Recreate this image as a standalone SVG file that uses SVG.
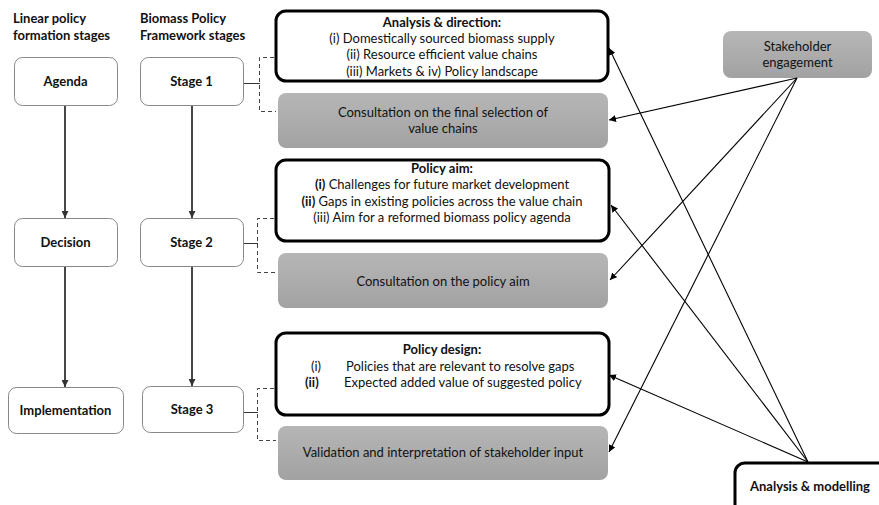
<svg xmlns="http://www.w3.org/2000/svg" width="879" height="505" viewBox="0 0 879 505">
<defs>
<linearGradient id="g" x1="0" y1="0" x2="0" y2="1">
<stop offset="0" stop-color="#b6b6b6"/>
<stop offset="1" stop-color="#a2a2a2"/>
</linearGradient>
<marker id="ah" viewBox="0 0 10 10" refX="10" refY="5" markerWidth="7" markerHeight="7" markerUnits="userSpaceOnUse" orient="auto">
<path d="M0,0 L10,5 L0,10 z" fill="#000"/>
</marker>
<marker id="ahg" viewBox="0 0 10 10" refX="10" refY="5" markerWidth="7" markerHeight="7" markerUnits="userSpaceOnUse" orient="auto">
<path d="M0,0 L10,5 L0,10 z" fill="#333"/>
</marker>
</defs>
<style>
text{font-family:Lato,"Liberation Sans",sans-serif;font-size:13px;fill:#111}
.b{font-weight:bold}
.c{text-anchor:middle}
.stage{fill:#fff;stroke:#888;stroke-width:1}
.thick{fill:#fff;stroke:#000;stroke-width:3}
.grey{fill:url(#g);stroke:none}
.v{stroke:#333;stroke-width:1.8;fill:none;marker-end:url(#ahg)}
.l{stroke:#000;stroke-width:1.1;fill:none;marker-end:url(#ah)}
.br{stroke:#444;stroke-width:1;fill:none;stroke-dasharray:4,3}
.tick{stroke:#333;stroke-width:1;fill:none}
</style>
<rect width="879" height="505" fill="#fff"/>
<g id="headers">
<text class="b" x="13" y="23">Linear policy</text>
<text class="b" x="13" y="40">formation stages</text>
<text class="b" x="140" y="23">Biomass Policy</text>
<text class="b" x="140" y="40">Framework stages</text>
</g>
<g id="agenda"><rect class="stage" x="14.5" y="57.5" width="103" height="48" rx="8"/><text class="b c" x="65.5" y="86">Agenda</text></g>
<g id="decision"><rect class="stage" x="14.5" y="218.5" width="103" height="48" rx="8"/><text class="b c" x="65.5" y="247">Decision</text></g>
<g id="implementation"><rect class="stage" x="8.5" y="387.5" width="115" height="46" rx="8"/><text class="b c" x="65.5" y="415">Implementation</text></g>
<g id="stage1"><rect class="stage" x="140.5" y="57.5" width="103" height="48" rx="8"/><text class="b c" x="191.5" y="86">Stage 1</text></g>
<g id="stage2"><rect class="stage" x="140.5" y="218.5" width="103" height="48" rx="8"/><text class="b c" x="191.5" y="247">Stage 2</text></g>
<g id="stage3"><rect class="stage" x="142.5" y="386.5" width="101" height="46" rx="8"/><text class="b c" x="192" y="414">Stage 3</text></g>
<g id="analysis-direction"><rect class="thick" x="276" y="11" width="332" height="70" rx="10"/>
<text class="c" x="442"><tspan class="b" x="442" y="27">Analysis &amp; direction:</tspan><tspan x="442" y="43">(i) Domestically sourced biomass supply</tspan><tspan x="442" y="59">(ii) Resource efficient value chains</tspan><tspan x="442" y="76">(iii) Markets &amp; iv) Policy landscape</tspan></text></g>
<g id="consultation-1"><rect class="grey" x="278" y="93" width="330" height="55" rx="8"/>
<text class="c" x="443" y="117">Consultation on the final selection of</text><text class="c" x="443" y="133">value chains</text></g>
<g id="policy-aim"><rect class="thick" x="276" y="160" width="333" height="81" rx="10"/>
<text class="c b" x="442" y="173">Policy aim:</text>
<text class="c" x="442" y="189"><tspan class="b">(i)</tspan> Challenges for future market development</text>
<text class="c" x="442" y="206"><tspan class="b">(ii)</tspan> Gaps in existing policies across the value chain</text>
<text class="c" x="442" y="222">(iii) Aim for a reformed biomass policy agenda</text></g>
<g id="consultation-2"><rect class="grey" x="278" y="253" width="330" height="55" rx="8"/>
<text class="c" x="443" y="286">Consultation on the policy aim</text></g>
<g id="policy-design"><rect class="thick" x="276" y="333" width="333" height="82" rx="10"/>
<text class="c b" x="442" y="354">Policy design:</text>
<text x="311" y="371">(i)</text><text x="346" y="371">Policies that are relevant to resolve gaps</text>
<text class="b" x="305" y="387">(ii)</text><text x="344" y="387">Expected added value of suggested policy</text></g>
<g id="validation"><rect class="grey" x="278" y="426" width="330" height="54" rx="8"/>
<text class="c" x="443" y="457">Validation and interpretation of stakeholder input</text></g>
<g id="stakeholder-engagement"><rect class="grey" x="723" y="31" width="149" height="47" rx="8"/>
<text class="c" x="797.5" y="51">Stakeholder</text><text class="c" x="797.5" y="67">engagement</text></g>
<g id="analysis-modelling"><rect class="thick" x="735" y="463" width="170" height="60" rx="10"/>
<text class="c b" x="810" y="491">Analysis &amp; modelling</text></g>
<g id="connectors">
<line class="v" x1="65" y1="106" x2="65" y2="218"/>
<line class="v" x1="65" y1="267" x2="65" y2="387"/>
<line class="v" x1="192" y1="106" x2="192" y2="218"/>
<line class="v" x1="192" y1="267" x2="192" y2="386"/>
<line class="tick" x1="244" y1="83.5" x2="260" y2="83.5"/>
<path class="br" d="M274,57.5 H259.5 V111.5 H276"/>
<line class="tick" x1="244" y1="243.5" x2="258" y2="243.5"/>
<path class="br" d="M274,218.5 H257.5 V272.5 H276"/>
<line class="tick" x1="244" y1="412.5" x2="258" y2="412.5"/>
<path class="br" d="M274,388.5 H257.5 V440.5 H276"/>
<line class="l" x1="797" y1="78" x2="609" y2="120"/>
<line class="l" x1="797" y1="78" x2="610" y2="280"/>
<line class="l" x1="797" y1="78" x2="609" y2="452"/>
<line class="l" x1="808" y1="462" x2="609" y2="48"/>
<line class="l" x1="808" y1="462" x2="611" y2="205"/>
<line class="l" x1="808" y1="462" x2="609" y2="375"/>
</g>
</svg>
